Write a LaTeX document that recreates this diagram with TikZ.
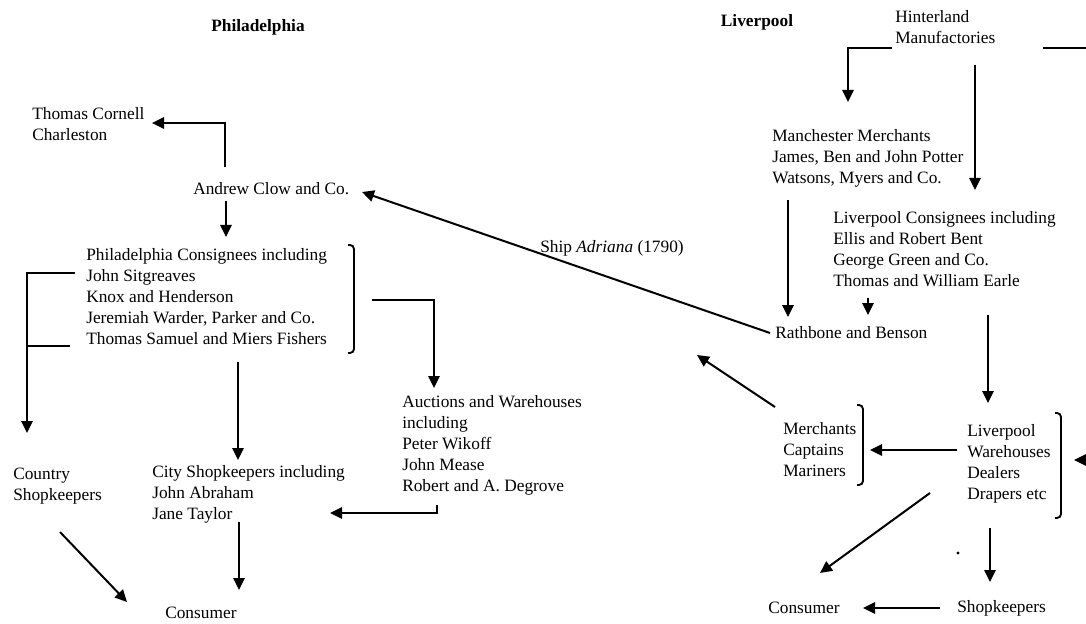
\documentclass[tikz,border=0pt]{standalone}
\usepackage{fontspec}
\setmainfont{Liberation Serif}
\usetikzlibrary{arrows.meta,calc}

\begin{document}
\begin{tikzpicture}[x=0.75pt,y=-0.75pt,
  txt/.style={align=left, anchor=west, inner sep=0pt,
              font=\fontsize{13}{15.75}\selectfont},
  hdr/.style={inner sep=0pt, font=\fontsize{13}{15}\selectfont\bfseries},
  arr/.style={-{Triangle[length=9pt,width=8.5pt]}, line width=1.5pt},
  ln/.style={line width=1.5pt},
  brk/.style={line width=1.4pt, rounded corners=3pt}
]
\useasboundingbox (0,0) rectangle (1086,624);

% Philadelphia side
\node[hdr] (phil) at (258,27) {Philadelphia};
\node[txt] (cornell) at (32,124) {Thomas Cornell\\Charleston};
\node[txt] (clow) at (193,189) {Andrew Clow and Co.};
\node[txt] (pcons) at (86,297) {Philadelphia Consignees including\\John Sitgreaves\\Knox and Henderson\\Jeremiah Warder, Parker and Co.\\Thomas Samuel and Miers Fishers};
\node[txt] (country) at (13,486) {Country\\Shopkeepers};
\node[txt] (city) at (152,494) {City Shopkeepers including\\John Abraham\\Jane Taylor};
\node[txt] (auct) at (402,445) {Auctions and Warehouses\\including\\Peter Wikoff\\John Mease\\Robert and A. Degrove};
\node[txt] (pconsumer) at (165,613) {Consumer};

% Liverpool side
\node[hdr] (liv) at (757,22) {Liverpool};
\node[txt] (hint) at (895,27) {Hinterland\\Manufactories};
\node[txt] (manch) at (772,158) {Manchester Merchants\\James, Ben and John Potter\\Watsons, Myers and Co.};
\node[txt] (lcons) at (833,249) {Liverpool Consignees including\\Ellis and Robert Bent\\George Green and Co.\\Thomas and William Earle};
\node[txt] (rath) at (775,333) {Rathbone and Benson};
\node[txt] (merch) at (783,450) {Merchants\\Captains\\Mariners};
\node[txt] (lware) at (967,464) {Liverpool\\Warehouses\\Dealers\\Drapers etc};
\node[txt] (rconsumer) at (768,608) {Consumer};
\node[txt] (shop) at (957,608) {Shopkeepers};
\node[circle, fill, inner sep=0pt, minimum size=2.5pt] (dot) at (958,553) {};
\node[txt] (ship) at (540,248) {Ship \textit{Adriana} (1790)};

\coordinate (edge1) at (1086,48);
\coordinate (edge2) at (1086,460);

% Philadelphia flows
\draw[arr] ($(clow.west)+(32,-22)$) |- ($(cornell.west)+(120,-1)$);
\draw[arr] ($(clow.west)+(33,12)$) -- ($(pcons.west)+(140,-60)$);
\draw[brk] ($(pcons.west)+(262,-52)$) -- ++(6,0) |- ($(pcons.west)+(262,56)$);
\draw[arr] ($(pcons.west)+(-11,-24)$) -| ($(country.west)+(14,-53)$);
\draw[ln] ($(pcons.west)+(-16,49)$) -- ++(-43,0);
\draw[arr] ($(pcons.west)+(152,65)$) -- ($(city.west)+(86,-34)$);
\draw[arr] ($(pcons.west)+(286,3)$) -| ($(auct.west)+(32,-57)$);
\draw[arr] ($(auct.west)+(35,60)$) |- ($(city.west)+(178,19)$);
\draw[arr] ($(country.west)+(47,46)$) -- ($(pconsumer.west)+(-38,-11)$);
\draw[arr] ($(city.west)+(87,28)$) -- ($(pconsumer.west)+(74,-23)$);

% Liverpool flows
\draw[arr] ($(hint.west)+(-3,21)$) -| ($(manch.west)+(76,-56)$);
\draw[ln] ($(hint.west)+(148,21)$) -- (edge1);
\draw[arr] ($(hint.west)+(80,38)$) -- ($(lcons.west)+(142,-59)$);
\draw[arr] ($(manch.west)+(16,42)$) -- ($(rath.west)+(13,-16)$);
\draw[arr] ($(lcons.west)+(35,49)$) -- ($(rath.west)+(93,-18)$);
\draw[arr] ($(lcons.west)+(155,66)$) -- ($(lware.west)+(21,-61)$);
\draw[arr] ($(rath.west)+(-5,0)$) -- ($(clow.west)+(169,3)$);
\draw[arr] ($(merch.west)+(-8,-43)$) -- ++(-78,-52);
\draw[brk] ($(merch.west)+(74,-45)$) -- ++(6,0) |- ($(merch.west)+(74,35)$);
\draw[arr] ($(lware.west)+(-10,-14)$) -- ($(merch.west)+(87,0)$);
\draw[brk] ($(lware.west)+(88,-51)$) -- ++(6,0) |- ($(lware.west)+(88,54)$);
\draw[arr] (edge2) -- ($(lware.west)+(107,-4)$);
\draw[arr] ($(lware.west)+(-37,29)$) -- ($(rconsumer.west)+(52,-35)$);
\draw[arr] ($(lware.west)+(23,64)$) -- ($(shop.west)+(33,-26)$);
\draw[arr] ($(shop.west)+(-17,0)$) -- ($(rconsumer.west)+(95,0)$);
\end{tikzpicture}
\end{document}
